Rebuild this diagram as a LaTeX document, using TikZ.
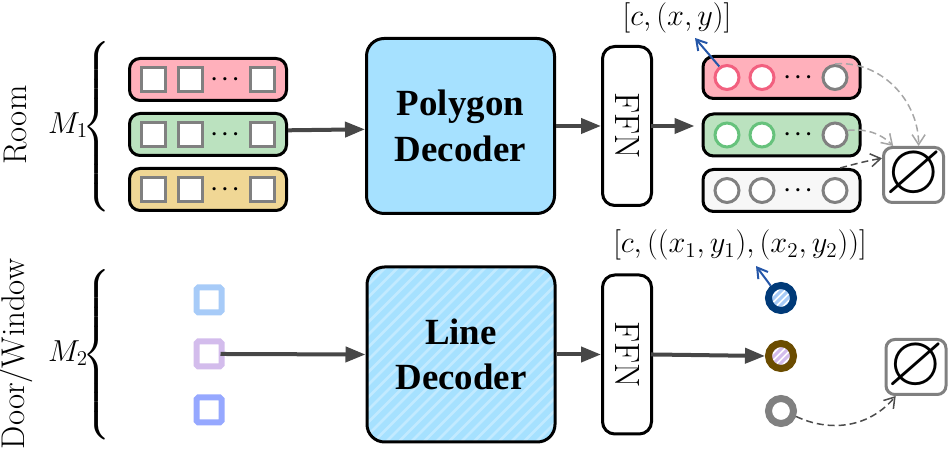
\documentclass[tikz,border=0pt]{standalone}
\usepackage[no-math]{fontspec}
\usepackage{xcolor}
\usepackage{amsfonts}
\usepackage{amssymb}
\usepackage{amsmath}
\usepackage{tikz}
\usetikzlibrary{arrows.meta}
\usetikzlibrary{positioning}
\newfontfamily\decfont{Liberation Serif}
\definecolor{rowpink}{HTML}{FFB0BB}
\definecolor{rowgreen}{HTML}{BBE2BF}
\definecolor{rowyellow}{HTML}{F0D795}
\definecolor{rowgray}{HTML}{F7F7F7}
\definecolor{ringpink}{HTML}{F2607F}
\definecolor{ringgreen}{HTML}{66C27C}
\definecolor{ringgray}{HTML}{808080}
\definecolor{decblue}{HTML}{A6E1FF}
\definecolor{stripeblue}{HTML}{C2EAFF}
\definecolor{pathblue}{HTML}{2456A8}
\definecolor{queryblue}{HTML}{A7CBF8}
\definecolor{querypurple}{HTML}{D3BCEC}
\definecolor{queryindigo}{HTML}{96A8FF}
\definecolor{ringnavy}{HTML}{003A78}
\definecolor{ringbrown}{HTML}{6B4C00}
\tikzset{
row box/.style = { rectangle, draw = black, line width = 0.06cm, minimum width = 3.14cm, minimum height = 0.84cm, rounded corners = 6pt, inner sep = 0pt},
query cell/.style = { rectangle, draw = ringgray, fill = white, line width = 0.06cm, minimum size = 0.48cm, inner sep = 0pt},
pred cell/.style = { circle, draw = #1, fill = white, line width = 0.06cm, minimum size = 0.48cm, inner sep = 0pt},
line query/.style = { rectangle, draw = #1, fill = white, line width = 0.12cm, minimum size = 0.5cm, rounded corners = 1pt, inner sep = 0pt},
line pred/.style = { circle, draw = #1, fill = white, line width = 0.14cm, minimum size = 0.5cm, inner sep = 0pt},
decoder/.style = { rectangle, draw = black, fill = decblue, line width = 0.06cm, minimum width = 3.76cm, minimum height = 3.5cm, rounded corners = 10pt, align = center, font = \decfont\bfseries\fontsize{21}{26}\selectfont},
ffn/.style = { rectangle, draw = black, fill = white, line width = 0.06cm, minimum width = 0.98cm, minimum height = 3.18cm, rounded corners = 7pt, font = \fontsize{20}{24}\selectfont},
empty box/.style = { rectangle, draw = ringgray, fill = white, line width = 0.06cm, minimum width = 1.2cm, minimum height = 1.1cm, rounded corners = 5pt, inner sep = 0pt},
side label/.style = { rotate = 90, font = \fontsize{18.7}{22}\selectfont},
hatched/.style args = {#1, #2, #3}{
    path picture = {
        \foreach \k in {-30, ..., 30} {
            \draw[#1, line width = #3] ([shift = {(\k*#2 - 5, -5)}]path picture bounding box.center) -- ([shift = {(\k*#2 + 5, 5)}]path picture bounding box.center);
        }
    }
},
flow/.style = { draw = black!72, line width = 0.08cm, -{Triangle[length = 0.4cm, width = 0.3cm]}},
none flow/.style = { draw = #1, dash pattern = on 0.14cm off 0.08cm, line width = 0.03cm, -{Straight Barb[length = 0.2cm, width = 0.26cm]}},
coord flow/.style = { draw = pathblue, line width = 0.04cm, -{Straight Barb[length = 0.2cm, width = 0.24cm]}},
}
\tikzset{
pics/query row/.style = {
        code = {
        \node[row box, fill = #1] (box) at (0.0, 0.0) {};
        \node[query cell] (a) at (-1.10, 0.0) {};
        \node[query cell] (b) at (-0.36, 0.0) {};
        \node[query cell] (c) at (1.08, 0.0) {};
        \node (dots) at (0.38, 0.0) {\fontsize{13}{13}\selectfont{\boldmath$\cdots$}};
        }
    },
pics/pred row/.style args = {#1, #2}{
        code = {
        \node[row box, fill = #1] (box) at (0.0, 0.0) {};
        \node[pred cell = #2] (a) at (-1.09, 0.0) {};
        \node[pred cell = #2] (b) at (-0.39, 0.0) {};
        \node[pred cell = ringgray] (c) at (1.07, 0.0) {};
        \node (dots) at (0.37, 0.0) {\fontsize{13}{13}\selectfont{\boldmath$\cdots$}};
        }
    }
}

\begin{document}
\begin{tikzpicture}[font = \fontsize{18}{21}\selectfont]
    \useasboundingbox (0, 0) rectangle (19.02, 9.10);
    % left labels
    \node[side label] (room) at (0.32, 6.60) {Room};
    \node[side label] (door) at (0.32, 2.02) {Door/Window};
    \node (mone) at (1.36, 6.60) {$M_1$};
    \node (mtwo) at (1.36, 2.04) {$M_2$};
    \node[inner sep = 0pt] (braceone) at (1.96, 6.56) {$\left\{\vcenter{\hbox{\rule{0pt}{102pt}}}\right.$};
    \node[inner sep = 0pt] (bracetwo) at (1.96, 2.00) {$\left\{\vcenter{\hbox{\rule{0pt}{102pt}}}\right.$};
    % queries
    \draw (4.16, 7.51) pic[name prefix = qa] {query row = rowpink};
    \draw (4.16, 6.41) pic[name prefix = qb] {query row = rowgreen};
    \draw (4.16, 5.31) pic[name prefix = qc] {query row = rowyellow};
    \node[line query = queryblue] (la) at (4.18, 3.10) {};
    \node[line query = querypurple] (lb) at (4.18, 2.02) {};
    \node[line query = queryindigo] (lc) at (4.18, 0.90) {};
    % decoders
    \node[decoder] (polydec) at (9.21, 6.58) {Polygon\\Decoder};
    \node[decoder, hatched = {stripeblue, 0.25, 0.05cm}] (linedec) at (9.22, 2.01) {Line\\Decoder};
    \node[ffn] (ffntop) at (12.54, 6.58) {\rotatebox{-90}{FFN}};
    \node[ffn] (ffnbot) at (12.54, 2.01) {\rotatebox{-90}{FFN}};
    % predictions
    \draw (15.63, 7.55) pic[name prefix = pa] {pred row = {rowpink, ringpink}};
    \draw (15.63, 6.40) pic[name prefix = pb] {pred row = {rowgreen, ringgreen}};
    \draw (15.63, 5.29) pic[name prefix = pc] {pred row = {rowgray, ringgray}};
    \node[line pred = ringnavy, hatched = {queryblue, 0.14, 0.06cm}] (da) at (15.62, 3.14) {};
    \node[line pred = ringbrown, hatched = {querypurple, 0.14, 0.06cm}] (db) at (15.62, 1.98) {};
    \node[line pred = ringgray] (dc) at (15.62, 0.88) {};
    \node[empty box] (nonetop) at (18.27, 5.60) {\scalebox{2.3}{$\varnothing$}};
    \node[empty box] (nonebot) at (18.32, 1.76) {\scalebox{2.3}{$\varnothing$}};
    \node (roomtarget) at (13.54, 8.74) {$[c, (x, y)]$};
    \node (linetarget) at (14.80, 4.20) {$[c, ((x_1, y_1), (x_2, y_2))]$};
    \coordinate (roomtip) at (13.90, 8.34);
    \coordinate (linetip) at (15.12, 3.78);
    % connectors
    \draw[flow] (qbbox.3) -- (polydec.182);
    \draw[flow, shorten < = -0.08cm] (lb.east) -- (linedec.west);
    \draw[flow] (polydec.east) -- (ffntop.west);
    \draw[flow] (linedec.east) -- (ffnbot.west);
    \draw[flow, shorten < = -0.04cm, shorten > = 0.14cm] (ffntop.east) -- (pbbox.west |- ffntop.east);
    \draw[flow, shorten < = -0.04cm] (ffnbot.east) -- (db.west);
    \draw[coord flow] (paa.125) -- (roomtip);
    \draw[coord flow] (da.130) -- (linetip);
    \draw[none flow = black!35] (pac.north) to[out = 5, in = 90] (nonetop.80);
    \draw[none flow = black!35] (pbc.20) to[out = 5, in = 135] (nonetop.125);
    \draw[none flow = black!70] (pcbox.21) to[out = 15, in = 190] (nonetop.152);
    \draw[none flow = black!70] (dc.-20) to[out = -25, in = 230] (nonebot.235);
\end{tikzpicture}
\end{document}
